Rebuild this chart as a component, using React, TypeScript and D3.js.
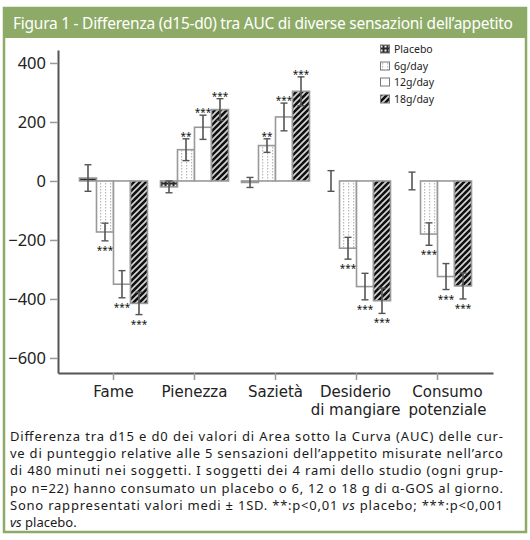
import React, { useEffect, useRef } from "react";
import * as d3 from "d3";

const categories = ["Fame", "Pienezza", "Sazietà", "Desiderio di mangiare", "Consumo potenziale"];
const categoryLines = [["Fame"], ["Pienezza"], ["Sazietà"], ["Desiderio", "di mangiare"], ["Consumo", "potenziale"]];
const series = ["Placebo", "6g/day", "12g/day", "18g/day"];

const placebo = [10, -20, -5, 0, 0];
const g6 = [-173, 106, 120, -228, -180];
const g12 = [-350, 182, 217, -358, -324];
const g18 = [-415, 242, 304, -406, -356];

const placeboSD = [45, 20, 17, 35, 30];
const g6SD = [30, 37, 23, 37, 38];
const g12SD = [46, 41, 47, 45, 44];
const g18SD = [38, 37, 49, 43, 44];

const placeboSig = ["", "", "", "", ""];
const g6Sig = ["***", "**", "**", "***", "***"];
const g12Sig = ["***", "***", "***", "***", "***"];
const g18Sig = ["***", "***", "***", "***", "***"];

const yTicks = [-600, -400, -200, 0, 200, 400];

const titleText = "Figura 1 - Differenza (d15-d0) tra AUC di diverse sensazioni dell’appetito";
const captionLines = [
  "Differenza tra d15 e d0 dei valori di Area sotto la Curva (AUC) delle cur-",
  "ve di punteggio relative alle 5 sensazioni dell’appetito misurate nell’arco",
  "di 480 minuti nei soggetti. I soggetti dei 4 rami dello studio (ogni grup-",
  "po n=22) hanno consumato un placebo o 6, 12 o 18 g di α-GOS al giorno.",
  "Sono rappresentati valori medi ± 1SD. **:p<0,01 |vs| placebo; ***:p<0,001",
  "|vs| placebo.",
];

const values = [placebo, g6, g12, g18];
const sds = [placeboSD, g6SD, g12SD, g18SD];
const sigs = [placeboSig, g6Sig, g12Sig, g18Sig];
const fills = ["url(#patPlacebo)", "url(#pat6)", "#ffffff", "url(#pat18)"];
const labelShift = [0, 0, 0, -1, 10];

const GREEN = "#8dab67";
const FONT = "'Noto Sans', sans-serif";
const LABEL_FONT = "'DejaVu Sans', sans-serif";

export default function App() {
  const xAxisRef = useRef<SVGGElement>(null);
  const yAxisRef = useRef<SVGGElement>(null);

  const x0 = d3.scaleBand<string>().domain(categories).range([58, 493]).paddingInner(0).paddingOuter(0.185);
  const bw = x0.bandwidth();
  const x1 = d3.scaleBand<string>().domain(series).range([(bw - 68) / 2, (bw + 68) / 2]).padding(0);
  const y = d3.scaleLinear().domain([-651, 444]).range([373, 50]);

  useEffect(() => {
    if (yAxisRef.current) {
      const g = d3.select(yAxisRef.current);
      g.selectAll("*").remove();
      g.call(d3.axisLeft(y).tickValues(yTicks).tickSize(8).tickSizeOuter(0).tickPadding(4).tickFormat(d3.format("d")));
      g.select(".domain").attr("stroke", "#555").attr("stroke-width", 2);
      g.selectAll(".tick line").attr("stroke", "#999").attr("stroke-width", 1.5);
      g.selectAll(".tick text").attr("font-size", 16.5).attr("font-family", FONT).attr("fill", "#222");
    }
    if (xAxisRef.current) {
      const g = d3.select(xAxisRef.current);
      g.selectAll("*").remove();
      g.call(d3.axisBottom(x0).tickSize(7).tickSizeOuter(0).tickPadding(6));
      g.select(".domain").attr("stroke", "#555").attr("stroke-width", 2);
      g.selectAll(".tick line").attr("stroke", "#999").attr("stroke-width", 1.5);
      g.selectAll<SVGTextElement, string>(".tick text").each(function (d) {
        const t = d3.select(this);
        const idx = categories.indexOf(d);
        const lines = categoryLines[idx];
        t.text(null)
          .attr("font-size", 15)
          .attr("font-family", LABEL_FONT)
          .attr("fill", "#222")
          .attr("dy", null)
          .attr("y", 0);
        lines.forEach((ln, i) => {
          t.append("tspan").attr("x", labelShift[idx]).attr("y", 24 + i * 17.5).text(ln);
        });
      });
    }
  });

  const legendY = [49, 66, 82, 99];

  return (
    <div style={{ position: "absolute", left: 0, top: 0 }}>
      <svg width={530} height={540} style={{ display: "block" }}>
        <defs>
          <pattern id="patPlacebo" patternUnits="userSpaceOnUse" width={4} height={4}>
            <rect width={4} height={4} fill="#2a2a2a" />
            <rect x={0.5} y={0.5} width={2} height={2} fill="#f4f4f4" />
          </pattern>
          <pattern id="pat6" patternUnits="userSpaceOnUse" width={5} height={3}>
            <rect width={5} height={3} fill="#ffffff" />
            <rect x={2} y={0} width={1.2} height={1.5} fill="#b8b8b8" />
          </pattern>
          <pattern id="pat18" patternUnits="userSpaceOnUse" width={6} height={6}>
            <rect width={6} height={6} fill="#111" />
            <path d="M-1,1 L1,-1 M0,6 L6,0 M5,7 L7,5" stroke="#d8d8d8" strokeWidth={1.6} />
          </pattern>
        </defs>

        {/* Frame */}
        <rect x={4} y={8} width={522} height={524} fill="#fff" stroke={GREEN} strokeWidth={2.5} />
        <rect x={4} y={8} width={522} height={30} fill={GREEN} />
        <text x={13} y={29} fill="#fff" fontSize={15.5} fontFamily={FONT} textLength={500} lengthAdjust="spacing">
          {titleText}
        </text>

        {/* Bars */}
        {categories.map((c, ci) => (
          <g key={c} transform={`translate(${x0(c)},0)`}>
            {series.map((s, si) => {
              const v = values[si][ci];
              const sd = sds[si][ci];
              const bx = x1(s)!;
              const w = x1.bandwidth();
              const top = y(Math.max(0, v));
              const bot = y(Math.min(0, v));
              const cx = bx + w / 2;
              const eTop = y(v + sd);
              const eBot = y(v - sd);
              const sig = sigs[si][ci];
              return (
                <g key={s}>
                  <rect x={bx} y={top} width={w} height={bot - top} fill={fills[si]} stroke="#999" strokeWidth={1.6} />
                  <line x1={cx} x2={cx} y1={eTop} y2={eBot} stroke="#555" strokeWidth={1.6} />
                  <line x1={cx - 3.5} x2={cx + 3.5} y1={eTop} y2={eTop} stroke="#555" strokeWidth={1.4} />
                  <line x1={cx - 3.5} x2={cx + 3.5} y1={eBot} y2={eBot} stroke="#555" strokeWidth={1.4} />
                  {sig && (
                    <text x={cx} y={v >= 0 ? eTop + 1 : eBot + 13} textAnchor="middle" fontSize={10} fontFamily={FONT} fill="#111">
                      {sig}
                    </text>
                  )}
                </g>
              );
            })}
          </g>
        ))}

        <g ref={yAxisRef} transform="translate(58,0)" />
        <g ref={xAxisRef} transform="translate(0,373)" />

        {/* Legend */}
        {series.map((s, i) => (
          <g key={s} transform={`translate(380,${legendY[i]})`}>
            <rect x={0.5} y={-4} width={9} height={8} fill={fills[i]} stroke="#777" strokeWidth={1} />
            <text x={14} y={4} fontSize={10.5} fontFamily={FONT} fill="#222">
              {s}
            </text>
          </g>
        ))}

        {/* Caption */}
        {captionLines.map((ln, i) => {
          const parts = ln.split("|");
          const justify = i < captionLines.length - 1;
          return (
            <text
              key={i}
              x={10}
              y={441 + i * 17.2}
              fontSize={13}
              fontFamily={FONT}
              fill="#1a1a1a"
              {...(justify ? { textLength: 493, lengthAdjust: "spacing" } : {})}
            >
              {parts.map((p, pi) => (
                <tspan key={pi} fontStyle={pi % 2 === 1 ? "italic" : "normal"}>
                  {p}
                </tspan>
              ))}
            </text>
          );
        })}
      </svg>
    </div>
  );
}
